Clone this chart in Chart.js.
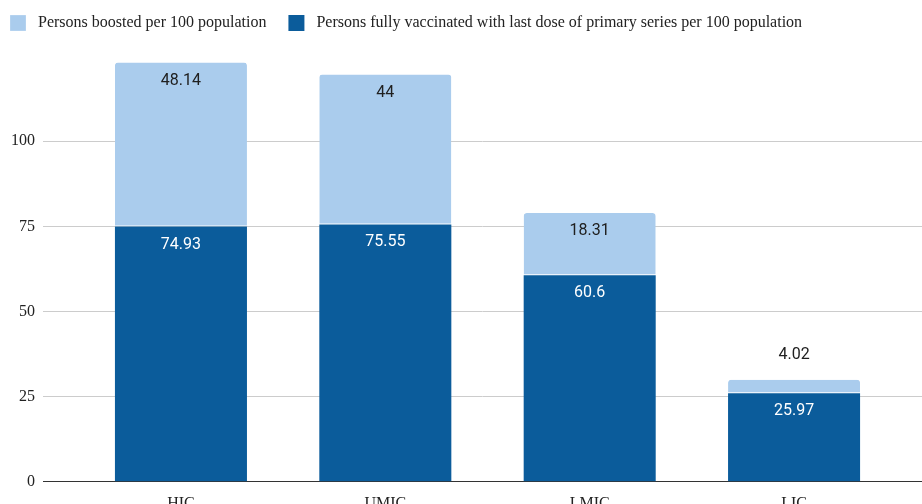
<!DOCTYPE html>
<html>
<head>
<meta charset="utf-8">
<script src="https://cdn.jsdelivr.net/npm/chart.js@4/dist/chart.umd.min.js"></script>
<style>
  html, body { margin: 0; padding: 0; background: #fff; overflow: hidden; }
  #wrap { width: 922px; height: 517px; }
</style>
</head>
<body>
<div id="wrap"><canvas id="chart"></canvas></div>
<script>
// data
const categories = ['HIC', 'UMIC', 'LMIC', 'LIC'];
const fullyVaccinated = [74.93, 75.55, 60.6, 25.97];
const boosted = [48.14, 44, 18.31, 4.02];
const yTicks = [0, 25, 50, 75, 100];

const serif = '"Liberation Serif", "Times New Roman", serif';
const sans = 'Roboto, "Liberation Sans", Arial, sans-serif';

// labels inside the top of each segment, above it if the segment is too short
const valueLabels = {
    id: 'valueLabels',
    afterDatasetsDraw(chart) {
        const c = chart.ctx;
        c.save();
        c.font = '16px ' + sans;
        c.textAlign = 'center';
        c.textBaseline = 'middle';
        chart.data.datasets.forEach((ds, di) => {
            chart.getDatasetMeta(di).data.forEach((bar, i) => {
                const h = bar.base - bar.y;
                let y = bar.y + 18;
                c.fillStyle = di === 0 ? '#ffffff' : '#202020';
                if (h < 30) {
                    y = bar.y - 25;
                    c.fillStyle = '#202020';
                }
                c.fillText(String(ds.data[i].y), bar.x, y);
            });
        });
        c.restore();
    }
};

// extra room under the legend
const legendMargin = {
    id: 'legendMargin',
    beforeInit(chart) {
        const fit = chart.legend.fit;
        chart.legend.fit = function () {
            fit.bind(chart.legend)();
            this.height += 15;
        };
    }
};

const ctx = document.getElementById('chart').getContext('2d');
const chart = new Chart(ctx, {
    type: 'bar',
    data: {
        datasets: [{
            label: 'Persons fully vaccinated with last dose of primary series per 100 population',
            data: fullyVaccinated.map((v, i) => ({ x: i, y: v })),
            backgroundColor: '#0b5c9b',
            barPercentage: 0.646,
            categoryPercentage: 1
        }, {
            label: 'Persons boosted per 100 population',
            data: boosted.map((v, i) => ({ x: i, y: v })),
            backgroundColor: '#aacced',
            borderColor: '#ffffff',
            borderWidth: { bottom: 1 },
            borderRadius: { topLeft: 3, topRight: 3 },
            borderSkipped: false,
            barPercentage: 0.646,
            categoryPercentage: 1
        }]
    },
    options: {
        responsive: true,
        maintainAspectRatio: false,
        animation: false,
        layout: { padding: { top: 5, right: 0, left: 0, bottom: 0 } },
        plugins: {
            legend: {
                position: 'top',
                align: 'start',
                reverse: true,
                labels: {
                    boxWidth: 16,
                    boxHeight: 16,
                    padding: 10,
                    color: '#222',
                    font: { family: serif, size: 16 },
                    generateLabels: (chart) => {
                        const items = Chart.defaults.plugins.legend.labels.generateLabels(chart);
                        items.forEach(it => { it.text = ' ' + it.text + '   '; });
                        return items;
                    }
                }
            },
            tooltip: { enabled: false }
        },
        scales: {
            x: {
                type: 'linear',
                stacked: true,
                offset: false,
                min: -0.675,
                max: 3.626,
                afterBuildTicks: (axis) => {
                    axis.ticks = categories.map((c, i) => ({ value: i }));
                },
                ticks: {
                    callback: (v) => categories[v],
                    color: '#222',
                    padding: 4,
                    maxRotation: 0,
                    font: { family: serif, size: 16 }
                },
                grid: { display: false },
                border: { display: true, color: '#333', width: 1 }
            },
            y: {
                stacked: true,
                min: 0,
                max: 125,
                afterBuildTicks: (axis) => {
                    axis.ticks = yTicks.map(v => ({ value: v }));
                },
                afterFit: (axis) => { axis.width = 43; },
                ticks: {
                    color: '#222',
                    padding: 8,
                    font: { family: serif, size: 16 }
                },
                grid: { color: '#cccccc', drawTicks: false },
                border: { display: false }
            }
        }
    },
    plugins: [valueLabels, legendMargin]
});
</script>
</body>
</html>
